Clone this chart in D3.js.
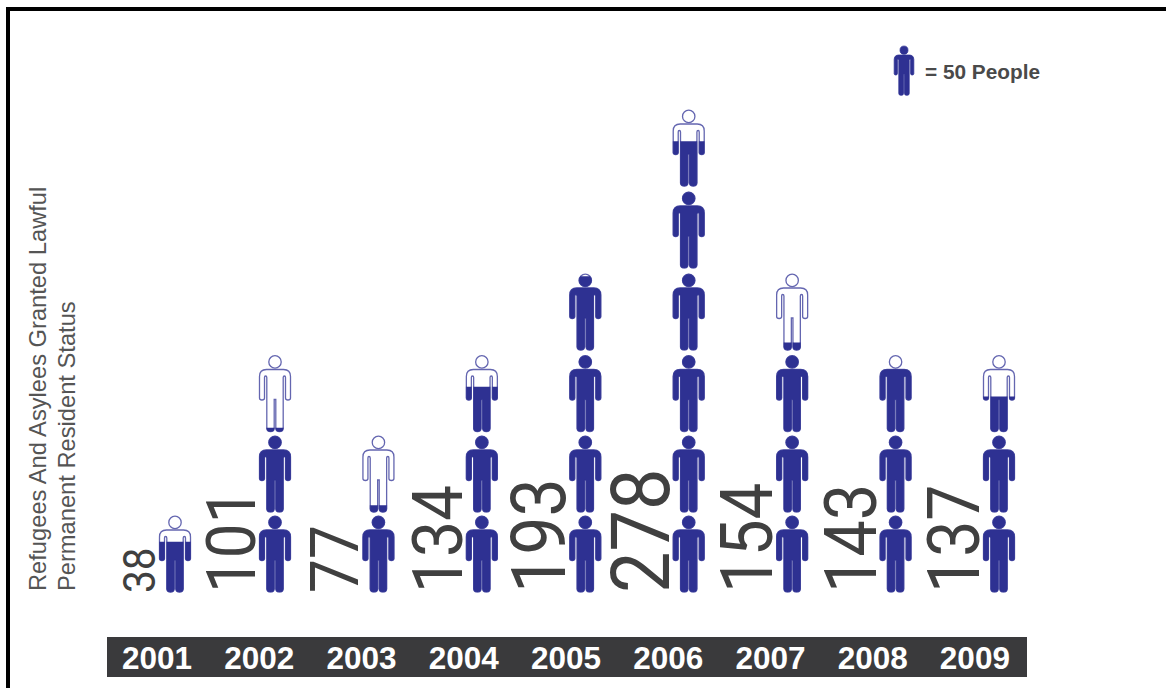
<!DOCTYPE html>
<html><head><meta charset="utf-8">
<style>html,body{margin:0;padding:0;background:#fff}svg{display:block}</style>
<script src="https://cdn.jsdelivr.net/npm/d3@7/dist/d3.min.js"></script></head>
<body><script>
const years = [2001,2002,2003,2004,2005,2006,2007,2008,2009];
const people = [38,101,77,134,193,278,154,143,137];
// icons drawn per column and how full the top icon is
const iconCounts = [1,3,2,3,4,6,4,3,3];
const topFill = [0.66,0.05,0.09,0.59,0.97,0.59,0.1,0.83,0.46];
const titleLines = ["Refugees And Asylees Granted Lawful","Permanent Resident Status"];
const legendText = "= 50 People";

const W=1166,H=688, blue="#2e3192", dark="#3a3a3c", grey="#404040";
const svg=d3.select("body").append("svg").attr("width",W).attr("height",H);
const defs=svg.append("defs");

// Person silhouette: local units, head top at 0, feet at 76
const body="M-8.5,14 L8.5,14 Q15.5,14 15.5,21 L15.5,42.5 Q15.5,44.5 13,44.5 Q10.5,44.5 10.5,42.5 L10.5,22 Q10.5,20.5 9.5,20.5 Q8.2,20.5 8.2,22 L8.2,73 Q8.2,76 4.5,76 Q0.8,76 0.8,73 L0.8,44 L-0.8,44 L-0.8,73 Q-0.8,76 -4.5,76 Q-8.2,76 -8.2,73 L-8.2,22 Q-8.2,20.5 -9.5,20.5 Q-10.5,20.5 -10.5,22 L-10.5,42.5 Q-10.5,44.5 -13,44.5 Q-15.5,44.5 -15.5,42.5 L-15.5,21 Q-15.5,14 -8.5,14 Z";
function person(g,fill,id){
  const draw=(sel,f,s,w)=>{
    sel.append("circle").attr("cy",6.4).attr("r",6.2).attr("fill",f).attr("stroke",s).attr("stroke-width",w);
    sel.append("path").attr("d",body).attr("fill",f).attr("stroke",s).attr("stroke-width",w);
  };
  draw(g,"#fff","#6466b0",1.3);
  const cy=d3.scaleLinear().domain([0,1]).range([76,0]);
  defs.append("clipPath").attr("id",id).append("rect")
    .attr("x",-20).attr("width",40).attr("y",fill>=1?-2:cy(fill)).attr("height",78);
  draw(g.append("g").attr("clip-path",`url(#${id})`),blue,blue,0.6);
}

const barX=d3.scaleBand().domain(years).range([107,1027]);
const iconX=d3.scaleLinear().domain([2001,2002,2009]).range([175,275,999]);
const rowY=d3.scaleLinear().domain([0,1,2,3,4,5]).range([516,436,355.5,274,192,110]);
const numSize=d3.scaleLinear().domain([38,77,278]).range([45,67,82]);

// frame
svg.append("path").attr("d",`M8,${H} L8,9 L${W},9`).attr("fill","none").attr("stroke","#000").attr("stroke-width",4);

// title
svg.append("g").attr("transform","translate(46,591) rotate(-90)").selectAll("text").data(titleLines).join("text")
  .attr("y",(d,i)=>i*28.5).attr("font-family","Liberation Sans").attr("font-size",23.7).attr("fill","#555").text(d=>d);

// year bar
svg.append("rect").attr("x",barX.range()[0]).attr("y",637).attr("width",barX.range()[1]-barX.range()[0]).attr("height",40).attr("fill",dark);
svg.selectAll(".yr").data(years).join("text").attr("class","yr")
  .attr("x",d=>barX(d)+barX.bandwidth()/2-1).attr("y",669).attr("text-anchor","middle")
  .attr("font-family","Liberation Sans").attr("font-weight","bold").attr("font-size",31.5).attr("fill","#fff").text(d=>d);

// icons
years.forEach((y,i)=>{
  d3.range(iconCounts[i]).forEach(r=>{
    const g=svg.append("g").attr("transform",`translate(${iconX(y)},${rowY(r)})`);
    person(g,r===iconCounts[i]-1?topFill[i]:1,`c${y}-${r}`);
  });
});

// value labels
svg.selectAll(".num").data(years).join("text").attr("class","num")
  .attr("transform",d=>`translate(${iconX(d)-20},593) rotate(-90) scale(0.9,1)`)
  .attr("font-family","Roboto").attr("font-weight",400).attr("font-size",(d,i)=>numSize(people[i])).attr("fill",grey)
  .text((d,i)=>people[i]);

// legend
const lg=svg.append("g").attr("transform","translate(904,46) scale(0.63,0.65)");
person(lg,1,"clegend");
svg.append("text").attr("x",925).attr("y",79).attr("font-family","Liberation Sans").attr("font-weight","bold").attr("font-size",20.8).attr("fill","#4a4a4a").text(legendText);
</script></body></html>
